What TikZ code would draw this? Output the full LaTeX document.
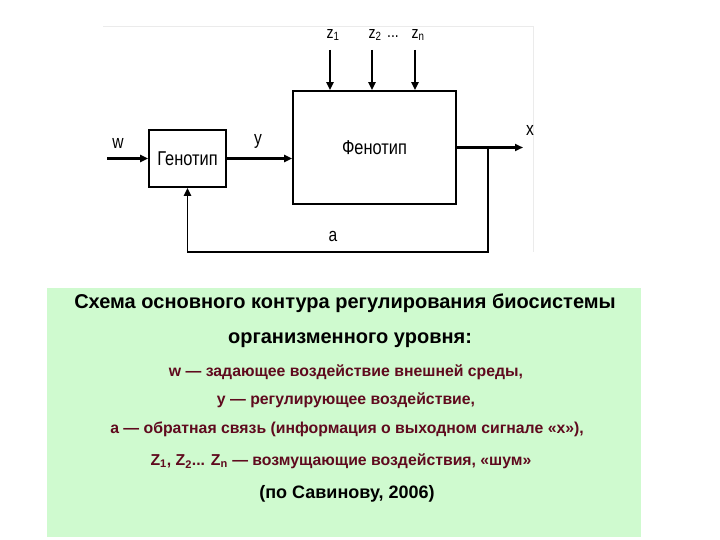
\documentclass[tikz,border=0pt]{standalone}
\usepackage{fontspec}
\setmainfont{Liberation Sans}
\newfontfamily\narrowfont[FakeStretch=0.82]{Liberation Sans}
\usetikzlibrary{arrows.meta}
\definecolor{notegreen}{RGB}{207,250,207}
\definecolor{notered}{RGB}{95,10,30}
\begin{document}
\begin{tikzpicture}[
  x=1pt,y=-1pt,
  block/.style={draw,line width=1.7pt,inner sep=0pt,
    font=\narrowfont\fontsize{20}{22}\selectfont},
  sig/.style={line width=2.4pt,-{Triangle[length=8pt,width=7pt]}},
  lbl/.style={font=\narrowfont\fontsize{19}{21}\selectfont,inner sep=0pt},
  zlbl/.style={font=\narrowfont\fontsize{17}{19}\selectfont,inner sep=0pt},
  title/.style={font=\bfseries\fontsize{20}{24}\selectfont,inner sep=0pt},
  note/.style={font=\bfseries\fontsize{15.8}{18}\selectfont,text=notered,
    inner sep=0pt}
]
\useasboundingbox (0,0) rectangle (720,540);
\draw[black!8,line width=1pt] (103,27) -- (533,27) -- (533,252);
\node[block,minimum width=77pt,minimum height=57pt] (geno) at (187.5,158.5) {Генотип};
\node[block,minimum width=163pt,minimum height=113pt] (pheno) at (374.5,147.5) {Фенотип};
\coordinate (win) at (107,158.5);
\coordinate (xout) at (523,147.5);
\coordinate (branch) at (488,147.5);
\coordinate (fbbot) at (488,252);
\coordinate (z1) at (330,50);
\coordinate (z2) at (372,50);
\coordinate (zn) at (415,50);
\draw[sig] (win) -- (geno);
\draw[sig] (geno) -- (pheno.west |- geno);
\draw[sig] (pheno) -- (xout);
\draw[line width=1.9pt,-{Triangle[length=8pt,width=7pt]}] (branch) -- (fbbot) -| (geno.south);
\foreach \z in {z1,z2,zn}
  \draw[sig,line width=1.9pt] (\z) -- (\z |- pheno.north);
\node[lbl] (wlbl) at (118,143) {w};
\node[lbl] (ylbl) at (258,141) {y};
\node[lbl] (xlbl) at (530,130) {x};
\node[lbl] (albl) at (333,236) {a};
\node[zlbl] (z1lbl) at (333,35) {z\textsubscript{1}};
\node[zlbl] (z2lbl) at (375,35) {z\textsubscript{2}};
\node[zlbl] (dots) at (393,37) {...};
\node[zlbl] (znlbl) at (418,35) {z\textsubscript{n}};
\fill[notegreen] (47,288) rectangle (641,537);
\node[title] (head1) at (345,303) {Схема основного контура регулирования биосистемы};
\node[title] (head2) at (350,340) {организменного уровня:};
\node[note] (wnote) at (346,372) {w — задающее воздействие внешней среды,};
\node[note] (ynote) at (346,400) {y — регулирующее воздействие,};
\node[note] (anote) at (347,429) {а — обратная связь (информация о выходном сигнале «х»),};
\node[note] (znote) at (341,461) {Z\textsubscript{1}, Z\textsubscript{2}... Z\textsubscript{n} — возмущающие воздействия, «шум»};
\node[title,font=\bfseries\fontsize{18}{20}\selectfont] (src) at (347,494) {(по Савинову, 2006)};
\end{tikzpicture}
\end{document}
